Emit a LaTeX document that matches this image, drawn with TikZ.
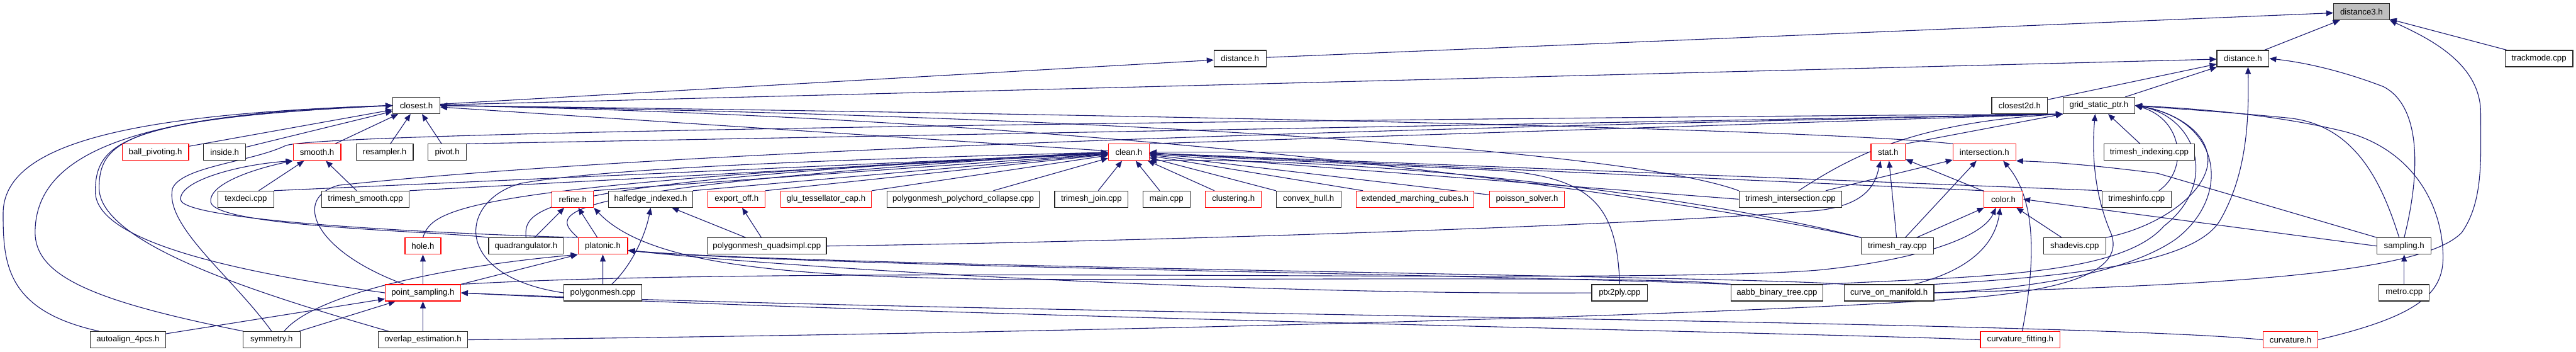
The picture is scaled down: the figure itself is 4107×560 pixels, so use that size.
\documentclass[tikz,border=0pt]{standalone}
\usepackage{fontspec}
\setmainfont{Liberation Sans}
\usetikzlibrary{arrows.meta,backgrounds}
\definecolor{edgeblue}{HTML}{191970}
\definecolor{curgray}{HTML}{BFBFBF}
\newcommand{\fsz}{\fontsize{13.3}{15}\selectfont}
\tikzset{
  file/.style={rectangle,draw=black!85,line width=1.2pt,fill=white,
    minimum height=26pt,inner sep=0pt,font=\fsz},
  redfile/.style={file,draw=red},
  curfile/.style={file,fill=curgray},
  dep/.style={draw=edgeblue,line width=1.1pt,-{Triangle[length=11pt,width=9pt]}},
}

\begin{document}
\begin{tikzpicture}[x=1pt,y=-1pt]
  \useasboundingbox (0,0) rectangle (4107,560);
  % level 0 to 2
  \node[curfile, minimum width=89pt] (dthree) at (3765,18.7) {distance3.h};
  \node[file, minimum width=83pt] (distL) at (1977,93.2) {distance.h};
  \node[file, minimum width=83pt] (distR) at (3576,93.2) {distance.h};
  \node[file, minimum width=108pt] (trackmode) at (4048,93.2) {trackmode.cpp};
  \node[file, minimum width=75pt] (closest) at (663.8,168) {closest.h};
  \node[file, minimum width=89pt] (closesttwod) at (3220,168) {closest2d.h};
  \node[file, minimum width=114pt] (grid) at (3346.4,168) {grid\_static\_ptr.h};
  % level 3
  \node[redfile, minimum width=106pt] (ballpiv) at (247.8,242.5) {ball\_pivoting.h};
  \node[file, minimum width=67pt] (inside) at (358.2,242.5) {inside.h};
  \node[redfile, minimum width=76pt] (smooth) at (505.4,242.5) {smooth.h};
  \node[file, minimum width=91pt] (resampler) at (613.2,242.5) {resampler.h};
  \node[file, minimum width=61pt] (pivot) at (713,242.5) {pivot.h};
  \node[redfile, minimum width=65pt] (clean) at (1799.7,242.5) {clean.h};
  \node[redfile, minimum width=55pt] (stat) at (3010.4,242.5) {stat.h};
  \node[redfile, minimum width=100pt] (intersect) at (3163.8,242.5) {intersection.h};
  \node[file, minimum width=145pt] (trimidx) at (3426.6,242.5) {trimesh\_indexing.cpp};
  % level 4
  \node[file, minimum width=89pt] (texdeci) at (391.9,317.2) {texdeci.cpp};
  \node[file, minimum width=140pt] (trismooth) at (582.6,317.2) {trimesh\_smooth.cpp};
  \node[redfile, minimum width=66pt] (refine) at (913.2,317.2) {refine.h};
  \node[file, minimum width=134pt] (halfedge) at (1037.3,317.2) {halfedge\_indexed.h};
  \node[redfile, minimum width=91pt] (exportoff) at (1174.4,317.2) {export\_off.h};
  \node[redfile, minimum width=145pt] (glutess) at (1317,317.2) {glu\_tessellator\_cap.h};
  \node[file, minimum width=242pt] (polychord) at (1535.6,317.2) {polygonmesh\_polychord\_collapse.cpp};
  \node[file, minimum width=117pt] (trijoin) at (1740,317.2) {trimesh\_join.cpp};
  \node[file, minimum width=75pt] (maincpp) at (1859.8,317.2) {main.cpp};
  \node[redfile, minimum width=89pt] (clustering) at (1966.5,317.2) {clustering.h};
  \node[file, minimum width=103pt] (convexhull) at (2086.3,317.2) {convex\_hull.h};
  \node[redfile, minimum width=188pt] (extmc) at (2255.9,317.2) {extended\_marching\_cubes.h};
  \node[redfile, minimum width=120pt] (poisson) at (2434.5,317.2) {poisson\_solver.h};
  \node[file, minimum width=164pt] (triinter) at (2854.6,317.2) {trimesh\_intersection.cpp};
  \node[redfile, minimum width=62pt] (color) at (3194.1,317.2) {color.h};
  \node[file, minimum width=110pt] (triinfo) at (3406.4,317.2) {trimeshinfo.cpp};
  % level 5
  \node[redfile, minimum width=57pt] (hole) at (674.3,391.8) {hole.h};
  \node[file, minimum width=119pt] (quadrang) at (838.6,391.8) {quadrangulator.h};
  \node[redfile, minimum width=79pt] (platonic) at (961.1,391.8) {platonic.h};
  \node[file, minimum width=190pt] (quadsimpl) at (1222.6,391.8) {polygonmesh\_quadsimpl.cpp};
  \node[file, minimum width=115pt] (triray) at (3025,391.8) {trimesh\_ray.cpp};
  \node[file, minimum width=99pt] (shadevis) at (3307.7,391.8) {shadevis.cpp};
  \node[file, minimum width=86pt] (sampling) at (3833,391.8) {sampling.h};
  % level 6
  \node[redfile, minimum width=120pt] (pointsamp) at (674.3,466.3) {point\_sampling.h};
  \node[file, minimum width=124pt] (polymesh) at (961.2,466.3) {polygonmesh.cpp};
  \node[file, minimum width=89pt] (ptxply) at (2582.3,466.3) {ptx2ply.cpp};
  \node[file, minimum width=146pt] (aabb) at (2833,466.3) {aabb\_binary\_tree.cpp};
  \node[file, minimum width=143pt] (curvemani) at (3011.7,466.3) {curve\_on\_manifold.h};
  \node[file, minimum width=80pt] (metro) at (3833,466.3) {metro.cpp};
  % level 7
  \node[file, minimum width=120pt] (autoalign) at (204,541) {autoalign\_4pcs.h};
  \node[file, minimum width=91pt] (symmetry) at (433,541) {symmetry.h};
  \node[file, minimum width=143pt] (overlap) at (674.3,541) {overlap\_estimation.h};
  \node[redfile, minimum width=127pt] (curvfit) at (3221,541) {curvature\_fitting.h};
  \node[redfile, minimum width=87pt] (curvature) at (3651.8,541) {curvature.h};

  \begin{scope}[on background layer]
  % distance3.h and distance.h
  \draw[dep] (distL) -- (dthree);
  \draw[dep] (distR) -- (dthree);
  \draw[dep] (trackmode) -- (dthree);
  \draw[dep] (curvemani.east) .. controls (3500,455) and (3860,440) .. (3925,370)
    .. controls (3960,320) and (3955,250) .. (3955,180) .. controls (3955,100) and (3870,60) .. (dthree.south east);
  \draw[dep] (closest) -- (distL);
  \draw[dep] (closest) -- (distR);
  \draw[dep] (closesttwod) -- (distR);
  \draw[dep] (grid) -- (distR);
  \draw[dep] (sampling.north) .. controls (3858,280) and (3862,170) .. (3800,138)
    .. controls (3740,115) and (3680,100) .. (distR.east);
  \draw[dep] (curvemani.north east) .. controls (3300,440) and (3500,420) .. (3540,350)
    .. controls (3580,280) and (3586,200) .. ([xshift=8pt]distR.south);

  % closest.h
  \draw[dep] ([xshift=-46pt]autoalign.north) .. controls (10,495) and (5,420) .. (5,340)
    .. controls (5,230) and (200,182) .. (closest.west);
  \draw[dep] ([xshift=-45pt]symmetry.north) .. controls (150,480) and (56,440) .. (56,370)
    .. controls (56,235) and (240,180) .. (closest.west);
  \draw[dep] (pointsamp.west) .. controls (350,430) and (152,380) .. (152,305)
    .. controls (152,228) and (195,188) .. (closest.west);
  \draw[dep] ([xshift=-55pt]overlap.north) .. controls (420,470) and (160,390) .. (158,300)
    .. controls (158,225) and (200,188) .. (closest.west);
  \draw[dep] (ballpiv) -- (closest);
  \draw[dep] (inside) -- (closest);
  \draw[dep] (smooth) -- (closest);
  \draw[dep] (resampler) -- (closest);
  \draw[dep] (pivot) -- (closest);
  \draw[dep] (clean) -- (closest);
  \draw[dep] (intersect.north west) .. controls (2900,205) and (1800,182) .. (closest.east);
  \draw[dep] (triinter.north west) .. controls (2600,240) and (1800,185) .. (closest.east);
  \draw[dep] (triray.north west) .. controls (2750,330) and (1900,190) .. (closest.east);

  % clean.h
  \draw[dep] (refine.north east) -- (clean);
  \draw[dep] (halfedge.north east) -- (clean);
  \draw[dep] (exportoff.north east) -- (clean);
  \draw[dep] (glutess.north east) -- (clean);
  \draw[dep] (polychord) -- (clean);
  \draw[dep] (texdeci.north east) -- (clean);
  \draw[dep] (trismooth.north east) -- (clean);
  \draw[dep] (quadrang.north) .. controls (835,330) and (850,290) .. (clean.west);
  \draw[dep] (platonic.north west) .. controls (880,340) and (840,300) .. (clean.west);
  \draw[dep] (polymesh.west) .. controls (720,440) and (730,320) .. (830,292)
    .. controls (1000,262) and (1500,250) .. (clean.west);
  \draw[dep] (hole.north) .. controls (690,330) and (740,295) .. (clean.west);
  \draw[dep] (trijoin) -- (clean);
  \draw[dep] (maincpp) -- (clean);
  \draw[dep] (clustering) -- (clean);
  \draw[dep] (convexhull) -- (clean);
  \draw[dep] (extmc) -- (clean);
  \draw[dep] (poisson) -- (clean);
  \draw[dep] (stat) -- (clean);
  \draw[dep] (color.north west) -- (clean);
  \draw[dep] (triinter.west) -- (clean);
  \draw[dep] (triinfo.north west) -- (clean);
  \draw[dep] (triray.north west) .. controls (2700,310) and (2200,250) .. (clean.south east);
  \draw[dep] (ptxply.north) .. controls (2578,330) and (2540,285) .. (2400,272)
    .. controls (2200,262) and (1900,250) .. (clean.east);

  % grid_static_ptr.h
  \draw[dep] (clean.north east) -- (grid.south west);
  \draw[dep] (stat.north east) -- (grid.south west);
  \draw[dep] (pivot.north east) -- (grid.south west);
  \draw[dep] ([xshift=13pt]triinter.north) .. controls (2950,250) and (3050,195) .. (grid.south west);
  \draw[dep] ([xshift=-30pt]pointsamp.north) .. controls (500,400) and (465,315) .. (540,295)
    .. controls (1200,225) and (2700,195) .. (grid.south west);
  \draw[dep] (symmetry.north) .. controls (370,440) and (262,360) .. (275,300)
    .. controls (290,265) and (400,258) .. (455,232) .. controls (520,205) and (2700,185) .. (grid.south west);
  \draw[dep] (trimidx) -- (grid);
  \draw[dep] (overlap.east) .. controls (1600,532) and (2700,505) .. (3100,477)
    .. controls (3300,465) and (3390,430) .. (3365,370) .. controls (3335,300) and (3336,230) .. ([xshift=-6pt]grid.south);
  \draw[dep] ([xshift=-20pt]triinfo.north east) .. controls (3490,270) and (3480,190) .. (grid.east);
  \draw[dep] (shadevis.north east) .. controls (3450,360) and (3525,300) .. (3520,250)
    .. controls (3515,200) and (3450,175) .. (grid.east);
  \draw[dep] (aabb.north east) .. controls (3150,440) and (3380,440) .. (3450,360)
    .. controls (3540,290) and (3500,185) .. (grid.east);
  \draw[dep] (curvemani.east) .. controls (3250,460) and (3400,430) .. (3470,380)
    .. controls (3560,310) and (3540,190) .. (grid.east);
  \draw[dep] ([xshift=-8pt]sampling.north) .. controls (3800,300) and (3760,200) .. (3650,188)
    .. controls (3550,178) and (3450,172) .. (grid.east);
  \draw[dep] (curvature.east) .. controls (3850,505) and (3895,470) .. (3895,410)
    .. controls (3895,330) and (3850,240) .. (3740,210) .. controls (3620,180) and (3480,172) .. (grid.east);

  % smooth.h
  \draw[dep] (texdeci) -- (smooth);
  \draw[dep] (trismooth) -- (smooth);
  \draw[dep] (platonic.north west) .. controls (700,372) and (292,352) .. (288,318)
    .. controls (285,288) and (380,262) .. (smooth.south west);
  \draw[dep] (quadrang.north west) .. controls (700,368) and (345,362) .. (336,322)
    .. controls (332,294) and (400,270) .. (smooth.south west);

  % stat.h, intersection.h, color.h
  \draw[dep] (triray) -- (stat);
  \draw[dep] (quadsimpl.east) .. controls (1800,385) and (2600,360) .. (2900,335)
    .. controls (2980,325) and (2990,290) .. ([xshift=-12pt]stat.south);
  \draw[dep] (color) -- (stat);
  \draw[dep] (triinter) -- (intersect);
  \draw[dep] (triray) -- (intersect);
  \draw[dep] ([xshift=3pt]curvfit.north) .. controls (3245,420) and (3248,320) .. ([xshift=30pt]intersect.south);
  \draw[dep] (sampling.north west) -- (3440,276) .. controls (3330,262) and (3270,258) .. (intersect.south east);
  \draw[dep] (triray) -- (color);
  \draw[dep] (shadevis) -- (color);
  \draw[dep] ([xshift=40pt]curvemani.north) .. controls (3140,430) and (3180,390) .. ([xshift=-5pt]color.south);
  \draw[dep] (pointsamp.north east) .. controls (1300,420) and (2600,455) .. (2900,430)
    .. controls (3050,415) and (3160,380) .. ([xshift=-12pt]color.south);
  \draw[dep] (sampling.west) -- (color.east);

  % refine.h, halfedge_indexed.h, export_off.h, platonic.h
  \draw[dep] (quadrang) -- (refine);
  \draw[dep] (platonic) -- (refine);
  \draw[dep] (aabb.north west) .. controls (2640,440) and (2200,445) .. (1600,445)
    .. controls (1300,440) and (1040,430) .. (refine.south east);
  \draw[dep] ([xshift=14pt]polymesh.north) .. controls (1010,420) and (1030,370) .. (halfedge.south);
  \draw[dep] (quadsimpl) -- (halfedge);
  \draw[dep] (quadsimpl) -- (exportoff);
  \draw[dep] (polymesh) -- (platonic);
  \draw[dep] (pointsamp.north east) -- (platonic.south west);
  \draw[dep] ([xshift=20pt]symmetry.north) .. controls (500,470) and (700,425) .. (platonic.south west);
  \draw[dep] (aabb.north west) .. controls (2300,435) and (1300,425) .. ([yshift=-7pt]platonic.east);
  \draw[dep] (ptxply.west) .. controls (2000,470) and (1300,430) .. ([yshift=-7pt]platonic.east);
  \draw[dep] (curvemani.north west) .. controls (2800,440) and (1300,425) .. ([yshift=-7pt]platonic.east);

  % hole.h, point_sampling.h, sampling.h
  \draw[dep] (pointsamp) -- (hole);
  \draw[dep] (autoalign) -- (pointsamp);
  \draw[dep] (symmetry) -- (pointsamp);
  \draw[dep] (overlap) -- (pointsamp);
  \draw[dep] (curvature.west) .. controls (3300,510) and (1500,500) .. (pointsamp.east);
  \draw[dep] (curvfit.west) .. controls (2900,530) and (1500,505) .. (pointsamp.east);
  \draw[dep] (metro) -- (sampling);
  \end{scope}
\end{tikzpicture}
\end{document}
